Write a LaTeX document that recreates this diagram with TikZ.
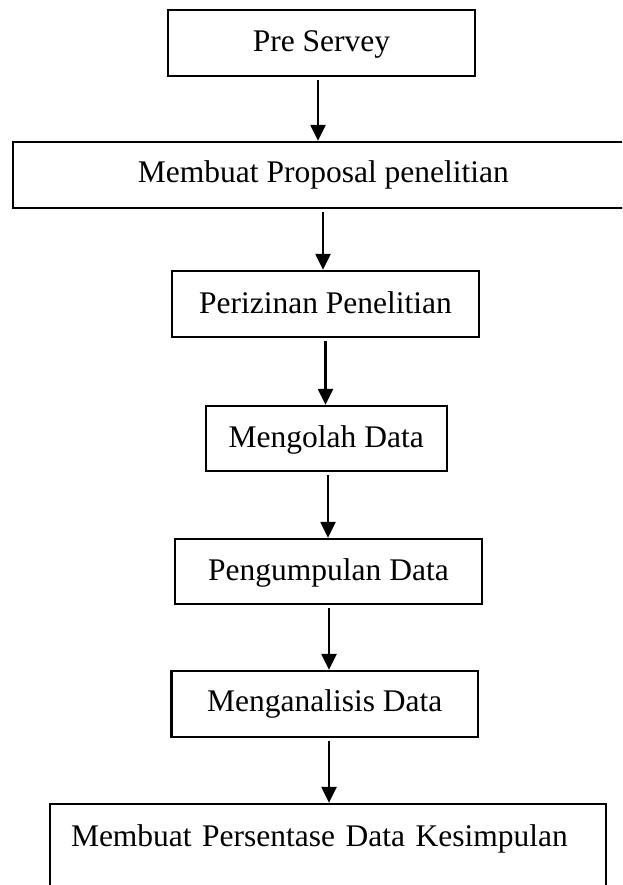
\documentclass[tikz,border=0pt]{standalone}
\usepackage{fontspec}
\setmainfont{Liberation Serif}
\usetikzlibrary{arrows.meta}
\begin{document}
\begin{tikzpicture}[x=1pt,y=-1pt,
  box/.style={draw, line width=2.3pt, inner sep=0pt, anchor=base, font=\fontsize{31.5}{36}\selectfont},
  arr/.style={line width=2.3pt, shorten <=3pt, -{Triangle[length=16pt,width=15pt]}}]
\useasboundingbox (0,0) rectangle (622,885);
\clip (0,0) rectangle (622,885);
\node[box, minimum width=307pt, text height=42pt, text depth=24pt] (a) at (321.5,52) {Pre Servey};
\node[box, minimum width=621.3pt, text height=40.7pt, text depth=25.3pt] (b) at (323.4,182.7) {Membuat Proposal penelitian};
\node[box, minimum width=307pt, text height=42pt, text depth=24pt] (c) at (325.5,313) {Perizinan Penelitian};
\node[box, minimum width=241pt, text height=41pt, text depth=24pt] (d) at (326.2,447) {Mengolah Data};
\node[box, minimum width=307pt, text height=41pt, text depth=24pt] (e) at (328.5,580) {Pengumpulan Data};
\node[box, minimum width=306.5pt, text height=40.7pt, text depth=25.3pt] (f) at (324.75,711.7) {Menganalisis Data};
\node[box, inner xsep=21pt, text width=514pt, align=left, text height=42pt, text depth=54pt] (g) at (328,846) {Membuat Persentase Data Kesimpulan};
\coordinate (x1) at (318,0);
\coordinate (x2) at (323,0);
\coordinate (x3) at (325.5,0);
\coordinate (x4) at (328,0);
\coordinate (x5) at (329,0);
\coordinate (x6) at (329,0);
\draw[arr] (a.south -| x1) -- (b.north -| x1);
\draw[arr] (b.south -| x2) -- (c.north -| x2);
\draw[arr] (c.south -| x3) -- (d.north -| x3);
\draw[arr] (d.south -| x4) -- (e.north -| x4);
\draw[arr] (e.south -| x5) -- (f.north -| x5);
\draw[arr] (f.south -| x6) -- (g.north -| x6);
\end{tikzpicture}
\end{document}
